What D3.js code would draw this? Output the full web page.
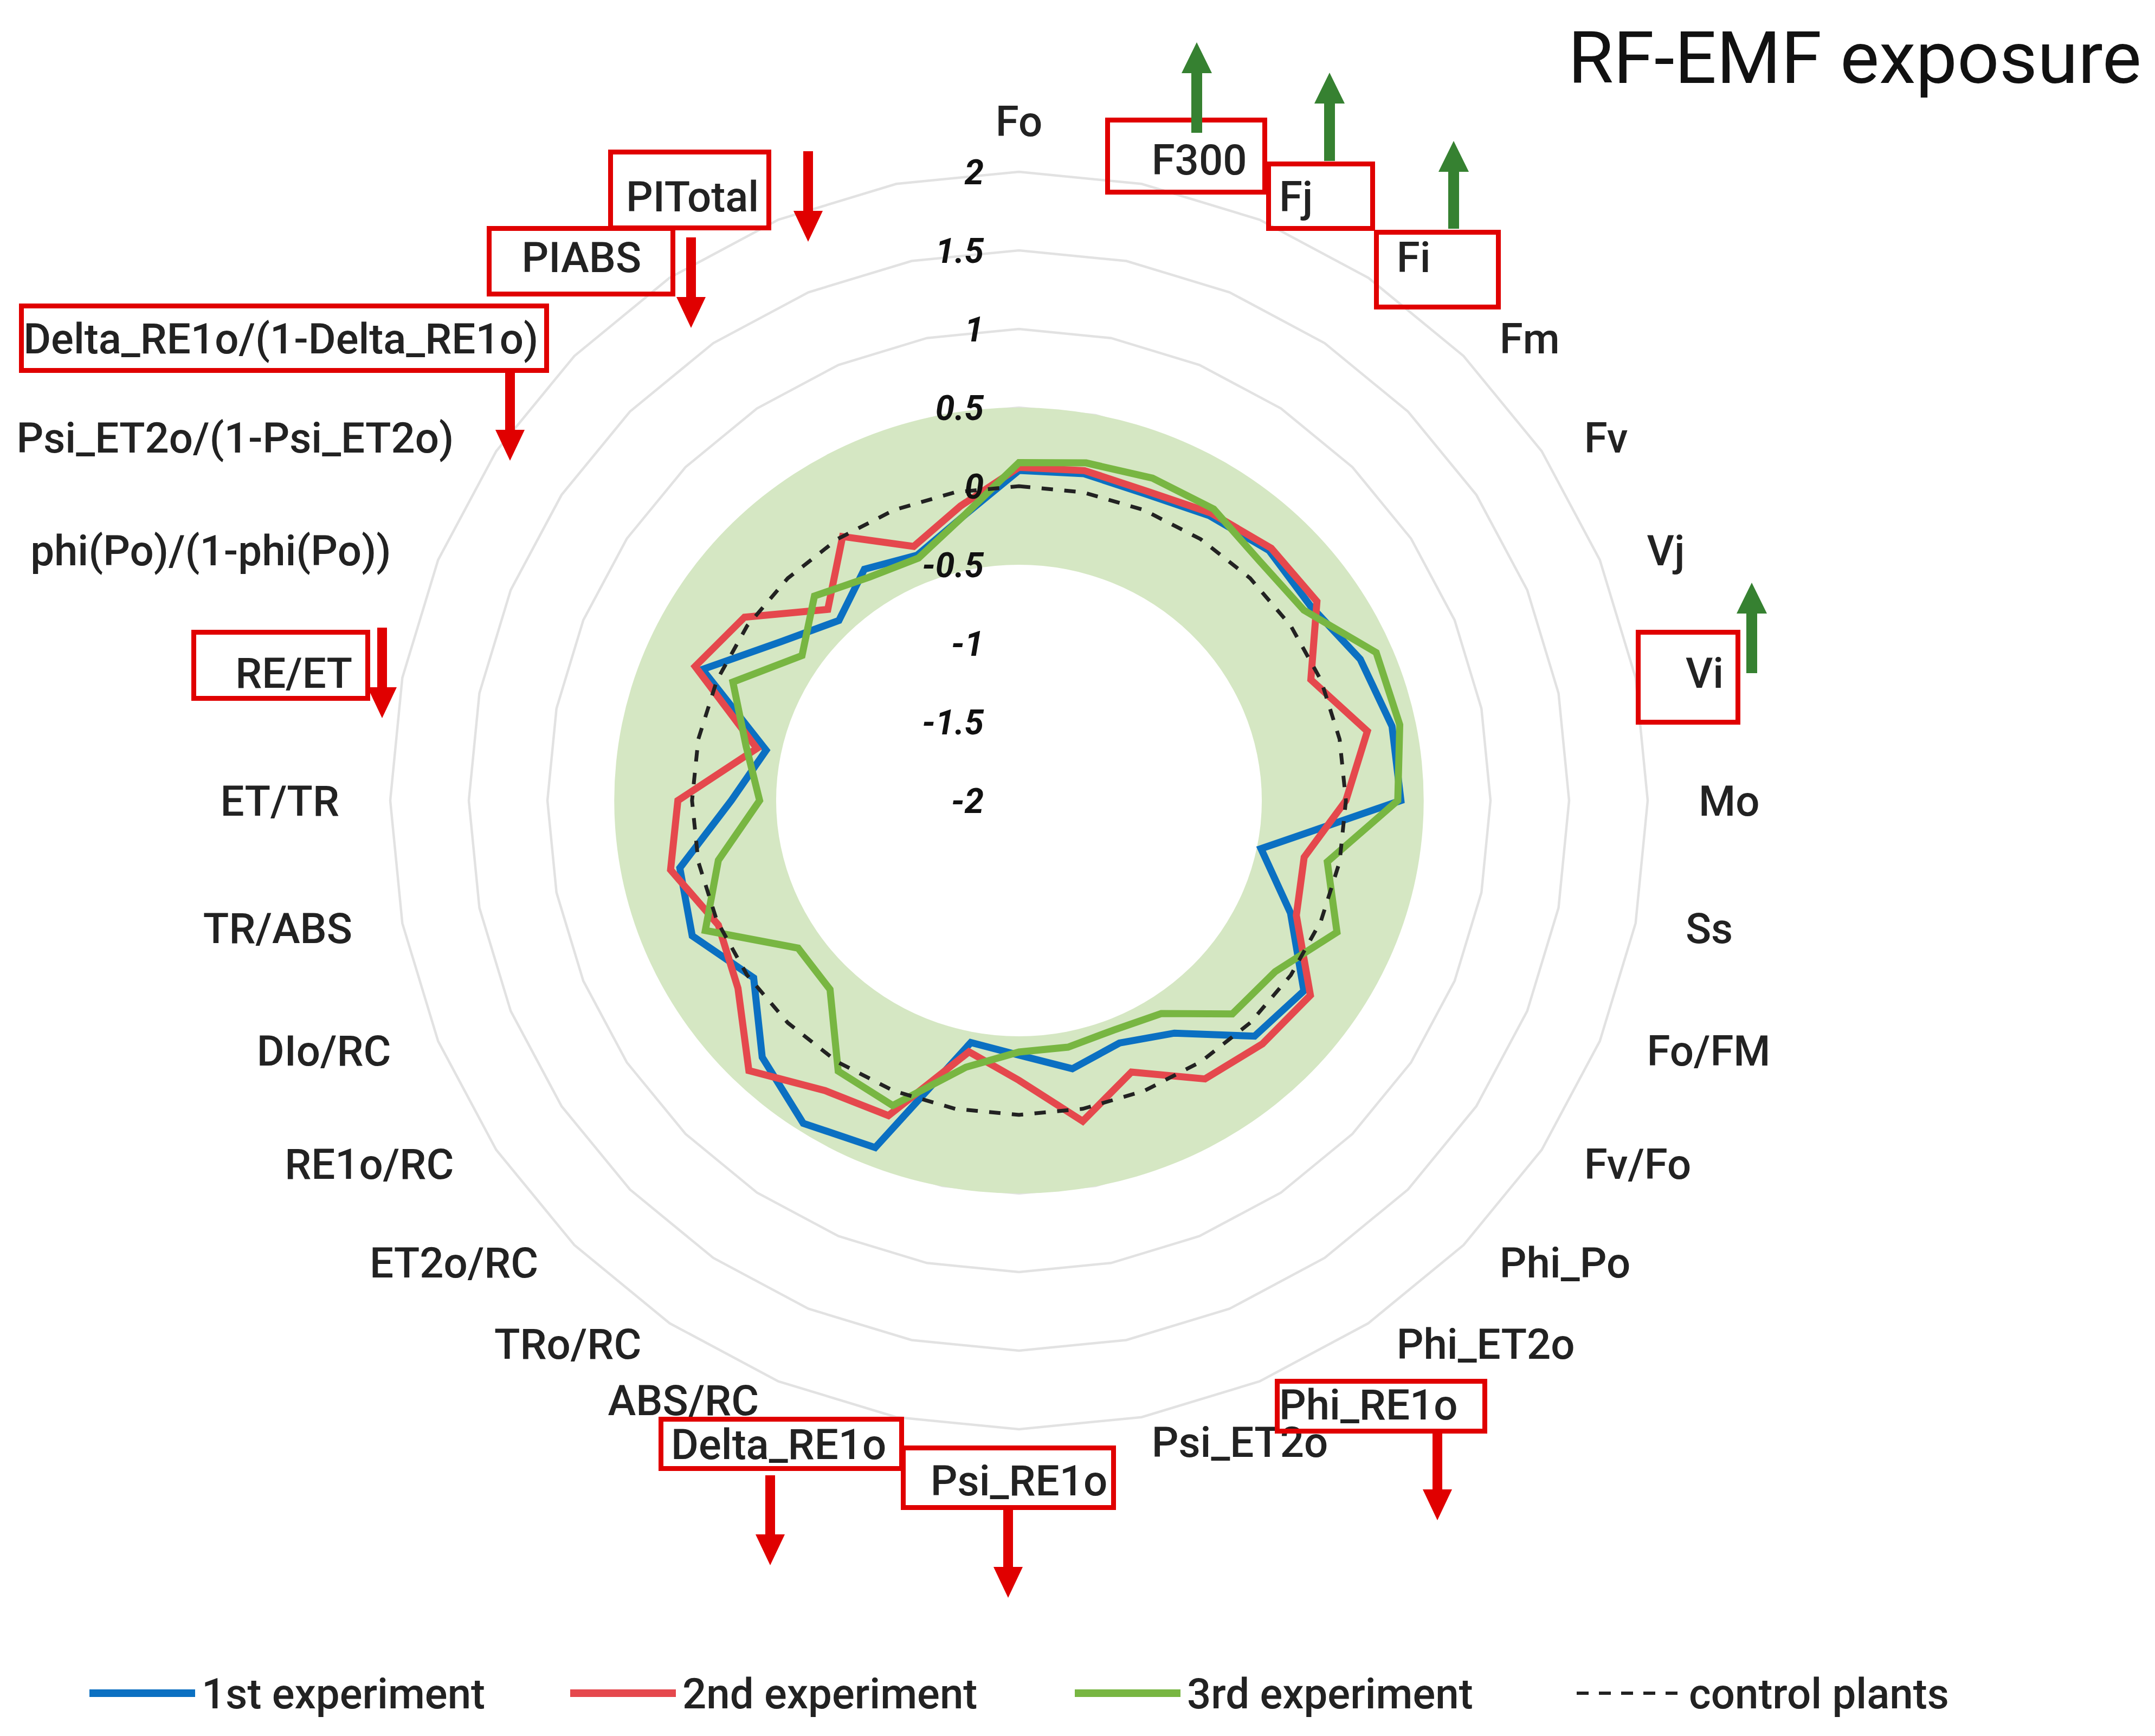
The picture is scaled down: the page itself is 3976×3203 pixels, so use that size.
<!DOCTYPE html>
<html><head><meta charset="utf-8">
<script src="https://cdn.jsdelivr.net/npm/d3@7"></script>
<style>html,body{margin:0;padding:0;background:#fff;} svg{display:block;}</style>
</head><body>
<svg id="chart" width="3976" height="3203"></svg>
<script>
// ---------------- DATA ----------------
const categories = ["Fo","F300","Fj","Fi","Fm","Fv","Vj","Vi","Mo","Ss","Fo/FM","Fv/Fo","Phi_Po","Phi_ET2o","Phi_RE1o","Psi_ET2o","Psi_RE1o","Delta_RE1o","ABS/RC","TRo/RC","ET2o/RC","RE1o/RC","DIo/RC","TR/ABS","ET/TR","RE/ET","phi(Po)/(1-phi(Po))","Psi_ET2o/(1-Psi_ET2o)","Delta_RE1o/(1-Delta_RE1o)","PIABS","PITotal",""];
const exp1 = [0.10,0.12,0.11,0.18,0.25,0.23,0.35,0.42,0.43,-0.43,-0.13,0.18,0.12,-0.22,-0.33,-0.26,-0.38,-0.43,0.39,0.47,0.31,0.03,0.25,0.20,-0.17,-0.36,0.18,-0.18,-0.38,-0.23,-0.31,-0.16];
const exp2 = [0.12,0.14,0.13,0.20,0.27,0.28,0.01,0.26,0.08,-0.15,-0.09,0.23,0.19,0.13,-0.13,0.08,-0.22,-0.37,0.17,0.22,0.43,0.15,0.07,0.26,0.17,-0.30,0.23,0.10,-0.28,0.02,-0.25,-0.09];
const exp3 = [0.15,0.19,0.22,0.23,0.16,0.18,0.46,0.47,0.41,0.00,0.19,-0.04,-0.08,-0.37,-0.42,-0.40,-0.40,-0.27,0.10,0.07,-0.30,-0.31,0.16,-0.05,-0.35,-0.23,-0.03,-0.34,-0.16,-0.29,-0.33,-0.16];
const control = [0,0,0,0,0,0,0,0,0,0,0,0,0,0,0,0,0,0,0,0,0,0,0,0,0,0,0,0,0,0,0,0];
const tickValues = [-2,-1.5,-1,-0.5,0,0.5,1,1.5,2];
const tickLabels = ["-2","-1.5","-1","-0.5","0","0.5","1","1.5","2"];
const gridValues = [0.5,1,1.5,2];
const bandRange = [-0.5,0.5];
const seriesNames = ["1st experiment","2nd experiment","3rd experiment","control plants"];
const titleText = "RF-EMF exposure";

// ---------------- ANNOTATION LAYOUT ----------------
const highlightBoxes = [
  {label:"F300", x0:2039,y0:217,x1:2338,y1:359},
  {label:"Fj", x0:2336,y0:298,x1:2537,y1:426},
  {label:"Fi", x0:2535,y0:424,x1:2769,y1:571},
  {label:"Vi", x0:3018,y0:1162,x1:3211,y1:1337},
  {label:"PITotal", x0:1122,y0:276,x1:1423,y1:425},
  {label:"PIABS", x0:898,y0:417,x1:1246,y1:547},
  {label:"Delta_RE1o/(1-Delta_RE1o)", x0:35,y0:560,x1:1013,y1:688},
  {label:"RE/ET", x0:353,y0:1162,x1:683,y1:1293},
  {label:"Delta_RE1o", x0:1215,y0:2614,x1:1668,y1:2714},
  {label:"Psi_RE1o", x0:1662,y0:2667,x1:2059,y1:2786},
  {label:"Phi_RE1o", x0:2352,y0:2544,x1:2744,y1:2645}
];
const arrowMarks = [
  {label:"F300", x:2208, from:245, to:78, up:true},
  {label:"Fj", x:2453, from:297, to:134, up:true},
  {label:"Fi", x:2682, from:422, to:260, up:true},
  {label:"Vi", x:3232, from:1242, to:1075, up:true},
  {label:"PITotal", x:1491, from:279, to:446, up:false},
  {label:"PIABS", x:1275, from:438, to:605, up:false},
  {label:"Delta_RE1o/(1-Delta_RE1o)", x:941, from:688, to:850, up:false},
  {label:"RE/ET", x:705, from:1158, to:1325, up:false},
  {label:"Delta_RE1o", x:1421, from:2722, to:2888, up:false},
  {label:"Psi_RE1o", x:1860, from:2786, to:2948, up:false},
  {label:"Phi_RE1o", x:2652, from:2645, to:2805, up:false}
];
// small manual nudges for crowded labels (px)
const labelNudge = {"ABS/RC": -8, "Delta_RE1o": 4};

// ---------------- CHART ----------------
const W = 3976, H = 3203;
const cx = 1880, cy = 1477;
const svg = d3.select("#chart");
svg.append("rect").attr("width",W).attr("height",H).attr("fill","#fff");

const n = categories.length;
const r = d3.scaleLinear().domain([-2,2]).range([0,1160]);
const ang = d3.scaleLinear().domain([0,n]).range([0,2*Math.PI]);
const colors = {exp1:"#0b70c2", exp2:"#e5484d", exp3:"#78b642", control:"#222"};
const FONT = "Roboto, 'Noto Sans', 'DejaVu Sans', sans-serif";

const g = svg.append("g").attr("transform",`translate(${cx},${cy})`);
const radial = d3.lineRadial().angle((d,i)=>ang(i)).radius(d=>r(d)).curve(d3.curveLinearClosed);

// grid rings
g.append("g").selectAll("path").data(gridValues).join("path")
  .attr("d", v => radial(categories.map(()=>v)))
  .attr("fill","none").attr("stroke","#e2e2e2").attr("stroke-width",4.5);

// green band (overlay, slightly wider horizontally like the reference)
const overlay = g.append("g").attr("transform","scale(1.03,1)");
overlay.append("path")
  .attr("d", d3.arc()({innerRadius:r(bandRange[0]), outerRadius:r(bandRange[1]), startAngle:0, endAngle:2*Math.PI}))
  .attr("fill","#d5e7c3");

// series
const series = [
  {key:"exp1", values:exp1},
  {key:"exp2", values:exp2},
  {key:"exp3", values:exp3}
];
g.append("g").selectAll("path").data(series).join("path")
  .attr("d", s => radial(s.values))
  .attr("fill","none").attr("stroke", s => colors[s.key])
  .attr("stroke-width",13).attr("stroke-linejoin","miter").attr("stroke-miterlimit",3);

// control (dashed)
g.append("g").attr("transform","scale(1.04,1)").append("path")
  .attr("d", radial(control))
  .attr("fill","none").attr("stroke",colors.control).attr("stroke-width",7)
  .attr("stroke-dasharray","21 21").attr("vector-effect","non-scaling-stroke");

// tick labels
g.append("g").selectAll("text").data(tickValues).join("text")
  .attr("x", -65).attr("y", v => -r(v) + 23)
  .attr("text-anchor","end")
  .attr("font-family",FONT).attr("font-size",64).attr("font-weight",700).attr("font-style","italic")
  .attr("fill","#111")
  .text((v,i) => tickLabels[i]);

// category labels
const R = 1254, LFS = 78;
categories.forEach((c,i) => {
  if (!c) return;
  const a = ang(i);
  const s = Math.sin(a), co = Math.cos(a);
  let x, yc, anchor;
  if (i === 0 || i === n/2) { x = cx + R*s; yc = cy - R*co; anchor = "middle"; }
  else { x = cx + R*s; yc = cy - R*co + 48*co; anchor = s > 0 ? "start" : "end"; }
  yc += (labelNudge[c] || 0);
  svg.append("text").attr("x", x).attr("y", yc + 0.355*LFS)
    .attr("text-anchor", anchor)
    .attr("font-family",FONT).attr("font-size",LFS).attr("font-weight",500)
    .attr("fill","#222").text(c);
});

// highlight boxes
svg.append("g").selectAll("rect").data(highlightBoxes).join("rect")
  .attr("x", d => d.x0 + 4.5).attr("y", d => d.y0 + 4.5)
  .attr("width", d => d.x1 - d.x0 - 9).attr("height", d => d.y1 - d.y0 - 9)
  .attr("fill","none").attr("stroke","#e00000").attr("stroke-width",9);

// arrows
function arrowPath(d) {
  const dir = d.to > d.from ? 1 : -1;
  const head = 57, hw = d.up ? 28 : 27, sw = d.up ? 10 : 9;
  const base = d.to - dir*head;
  return `M${d.x-sw},${d.from} L${d.x+sw},${d.from} L${d.x+sw},${base} L${d.x+hw},${base} L${d.x},${d.to} L${d.x-hw},${base} L${d.x-sw},${base} Z`;
}
svg.append("g").selectAll("path").data(arrowMarks).join("path")
  .attr("d", arrowPath)
  .attr("fill", d => d.up ? "#368131" : "#e00000");

// legend
const legendY = 3124;
const legendLayout = [165, 1052, 1983, 2909];
const legendKeys = ["exp1","exp2","exp3","control"];
const lg = svg.append("g");
legendKeys.forEach((k,i) => {
  const x0 = legendLayout[i];
  const line = lg.append("line").attr("x1",x0).attr("x2",x0+195).attr("y1",legendY).attr("y2",legendY)
    .attr("stroke",colors[k]);
  if (k === "control") line.attr("stroke-width",6).attr("stroke-dasharray","22 19");
  else line.attr("stroke-width",14);
  lg.append("text").attr("x", x0 + 207).attr("y", legendY + 0.355*LFS)
    .attr("font-family",FONT).attr("font-size",LFS).attr("font-weight",500)
    .attr("fill","#222").text(seriesNames[i]);
});

// title
svg.append("text").attr("x",2893).attr("y",153)
  .attr("font-family",FONT).attr("font-size",134).attr("font-weight",400)
  .attr("fill","#111").attr("textLength",1058).attr("lengthAdjust","spacingAndGlyphs")
  .text(titleText);
</script>
</body></html>
